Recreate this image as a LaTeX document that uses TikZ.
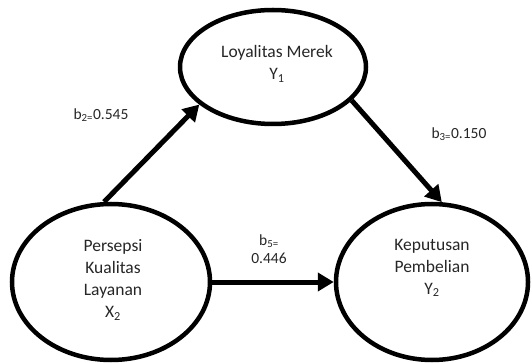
\documentclass[tikz,border=0pt]{standalone}
\usepackage{fontspec}
\setmainfont{Carlito}
\usetikzlibrary{arrows.meta,shapes.geometric}
\begin{document}
\begin{tikzpicture}[x=1pt,y=-1pt,
  var/.style={draw=black,line width=4.5pt,ellipse,inner sep=0pt},
  lbl/.style={font=\fontsize{17.5}{22}\selectfont,align=center,text=black!85},
  coef/.style={font=\fontsize{15.5}{18}\selectfont,align=center,text=black!85},
  path/.style={line width=5pt,-{Triangle[length=16pt,width=18pt]}}]
\useasboundingbox (0,0) rectangle (532,363);
\node[var,minimum width=186pt,minimum height=114pt] (e1) at (273,67) {};
\node[var,minimum width=198pt,minimum height=156pt] (e2) at (111,282) {};
\node[var,minimum width=192pt,minimum height=156pt] (e3) at (432,282) {};
\node[lbl] (y1) at (277,64) {Loyalitas Merek\\Y\textsubscript{1}};
\node[lbl] (x2) at (113,280) {Persepsi\\Kualitas\\Layanan\\X\textsubscript{2}};
\node[lbl] (y2) at (432,268) {Keputusan\\Pembelian\\Y\textsubscript{2}};
\draw[path] (e2.95) -- (e1.207);
\draw[path] (e1.-23) -- (e3.83);
\draw[path] (e2.east) -- (e3.west);
\node[coef] (l1) at (101,115) {b\textsubscript{2=}0.545};
\node[coef] (l2) at (459,134) {b\textsubscript{3=}0.150};
\node[coef] (l3) at (269,249) {b\textsubscript{5=}\\0.446};
\end{tikzpicture}
\end{document}
